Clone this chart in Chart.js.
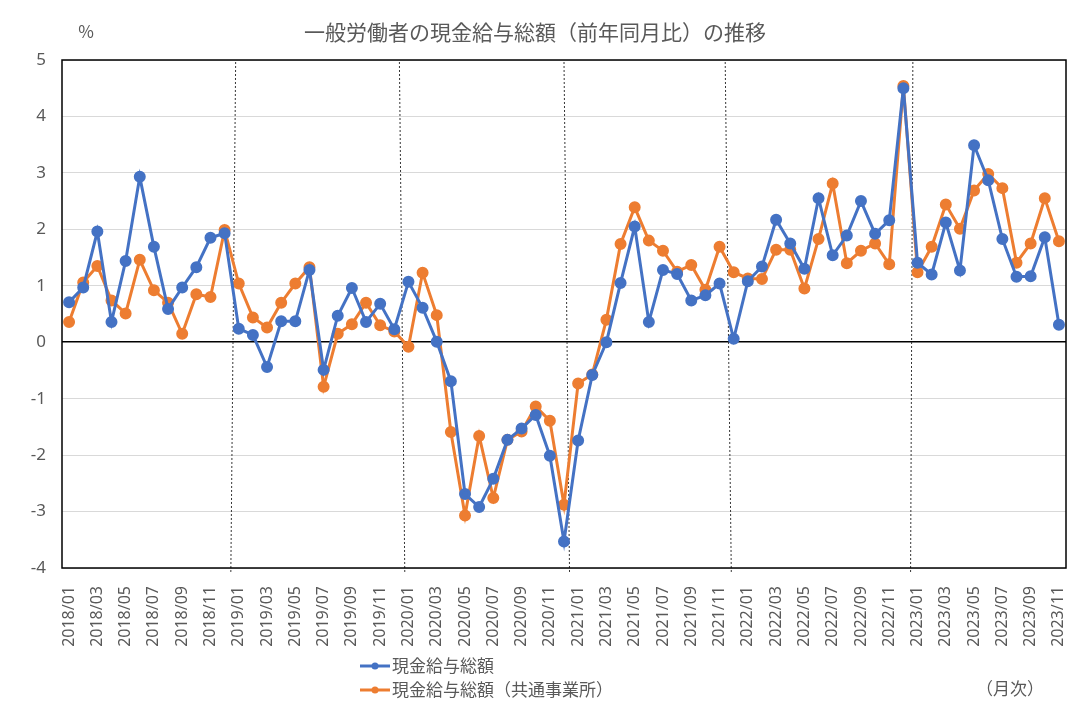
<!DOCTYPE html>
<html>
<head>
<meta charset="utf-8">
<script src="https://cdn.jsdelivr.net/npm/chart.js@4.4.1/dist/chart.umd.min.js"></script>
<style>
  html, body { margin: 0; padding: 0; background: #fff; }
  #wrap { width: 1080px; height: 712px; position: relative; }
</style>
</head>
<body>
<div id="wrap"><canvas id="wageChart" width="1080" height="712"></canvas></div>
<script>
// 月次ラベル
const months = [
    '2018/01','2018/02','2018/03','2018/04','2018/05','2018/06','2018/07','2018/08','2018/09','2018/10','2018/11','2018/12',
    '2019/01','2019/02','2019/03','2019/04','2019/05','2019/06','2019/07','2019/08','2019/09','2019/10','2019/11','2019/12',
    '2020/01','2020/02','2020/03','2020/04','2020/05','2020/06','2020/07','2020/08','2020/09','2020/10','2020/11','2020/12',
    '2021/01','2021/02','2021/03','2021/04','2021/05','2021/06','2021/07','2021/08','2021/09','2021/10','2021/11','2021/12',
    '2022/01','2022/02','2022/03','2022/04','2022/05','2022/06','2022/07','2022/08','2022/09','2022/10','2022/11','2022/12',
    '2023/01','2023/02','2023/03','2023/04','2023/05','2023/06','2023/07','2023/08','2023/09','2023/10','2023/11'
];

// 現金給与総額（前年同月比, %）
const totalWage = [
    0.71, 0.97, 1.96, 0.36, 1.44, 2.93, 1.69, 0.59, 0.97, 1.33, 1.85, 1.93,
    0.24, 0.13, -0.44, 0.37, 0.37, 1.28, -0.49, 0.47, 0.96, 0.36, 0.68, 0.23,
    1.07, 0.61, 0.01, -0.69, -2.69, -2.92, -2.42, -1.73, -1.53, -1.29, -2.01, -3.53,
    -1.74, -0.58, 0.00, 1.05, 2.05, 0.36, 1.28, 1.21, 0.74, 0.83, 1.04, 0.06,
    1.08, 1.34, 2.17, 1.75, 1.30, 2.55, 1.54, 1.89, 2.50, 1.92, 2.16, 4.50,
    1.41, 1.20, 2.12, 1.27, 3.49, 2.87, 1.83, 1.16, 1.17, 1.86, 0.31
];

// 現金給与総額（共通事業所）
const totalWageCommon = [
    0.36, 1.06, 1.35, 0.74, 0.51, 1.46, 0.92, 0.70, 0.15, 0.85, 0.80, 1.99,
    1.04, 0.44, 0.26, 0.70, 1.04, 1.33, -0.79, 0.15, 0.32, 0.70, 0.30, 0.19,
    -0.08, 1.23, 0.48, -1.59, -3.07, -1.66, -2.76, -1.73, -1.58, -1.14, -1.39, -2.88,
    -0.73, -0.57, 0.40, 1.74, 2.39, 1.80, 1.62, 1.25, 1.37, 0.93, 1.69, 1.24,
    1.13, 1.12, 1.64, 1.64, 0.95, 1.83, 2.81, 1.40, 1.62, 1.75, 1.38, 4.54,
    1.24, 1.69, 2.44, 2.01, 2.69, 2.98, 2.73, 1.41, 1.75, 2.55, 1.79
];

const yTicks = [5, 4, 3, 2, 1, 0, -1, -2, -3, -4];

// 年の区切り線（手描き風に少し傾いている）: 上端と下端のカテゴリ位置
const yearDividers = [
    { top: 11.78, bottom: 11.44 },
    { top: 23.36, bottom: 23.74 },
    { top: 35.00, bottom: 35.39 },
    { top: 46.40, bottom: 46.83 },
    { top: 59.67, bottom: 59.51 }
];

const TEXT_GRAY = '#595959';
const JP_FONT = '"Noto Sans CJK JP", "Noto Sans", sans-serif';

// 枠線と年区切り線
const framePlugin = {
    id: 'frame',
    beforeDatasetsDraw(chart) {
        const { ctx, chartArea: a, scales: { x } } = chart;
        ctx.save();
        ctx.strokeStyle = '#333';
        ctx.lineWidth = 1;
        ctx.setLineDash([2, 2]);
        yearDividers.forEach(d => {
            ctx.beginPath();
            ctx.moveTo(x.getPixelForValue(d.top), a.top + 2);
            ctx.lineTo(x.getPixelForValue(d.bottom), a.bottom + 4);
            ctx.stroke();
        });
        ctx.setLineDash([]);
        ctx.strokeStyle = '#000';
        ctx.lineWidth = 1.5;
        ctx.strokeRect(a.left, a.top, a.right - a.left, a.bottom - a.top);
        ctx.restore();
    }
};

// タイトル・単位・凡例
const textPlugin = {
    id: 'texts',
    afterDraw(chart) {
        const { ctx } = chart;
        ctx.save();
        ctx.fillStyle = TEXT_GRAY;
        ctx.textBaseline = 'middle';
        ctx.textAlign = 'center';
        ctx.font = '21px ' + JP_FONT;
        ctx.fillText('一般労働者の現金給与総額（前年同月比）の推移', 535, 32);
        ctx.font = '17px ' + JP_FONT;
        ctx.fillText('%', 86, 32);
        ctx.fillText('（月次）', 1010, 689);

        ctx.textAlign = 'left';
        chart.data.datasets.forEach((ds, i) => {
            const y = 666 + i * 24;
            ctx.strokeStyle = ds.borderColor;
            ctx.lineWidth = 3;
            ctx.beginPath();
            ctx.moveTo(360, y);
            ctx.lineTo(390, y);
            ctx.stroke();
            ctx.fillStyle = ds.borderColor;
            ctx.beginPath();
            ctx.arc(375, y, 3.5, 0, Math.PI * 2);
            ctx.fill();
            ctx.fillStyle = TEXT_GRAY;
            ctx.fillText(ds.label, 392, y);
        });
        ctx.restore();
    }
};

Chart.defaults.font.family = '"Noto Sans", "Noto Sans CJK JP", sans-serif';
Chart.defaults.color = TEXT_GRAY;

const ctx = document.getElementById('wageChart').getContext('2d');
new Chart(ctx, {
    type: 'line',
    data: {
        labels: months,
        datasets: [
            {
                label: '現金給与総額',
                data: totalWage,
                borderColor: '#4472C4',
                backgroundColor: '#4472C4',
                borderWidth: 3,
                pointRadius: 4.5,
                pointHoverRadius: 4.5,
                tension: 0
            },
            {
                label: '現金給与総額（共通事業所）',
                data: totalWageCommon,
                borderColor: '#ED7D31',
                backgroundColor: '#ED7D31',
                borderWidth: 3,
                pointRadius: 4.5,
                pointHoverRadius: 4.5,
                tension: 0
            }
        ]
    },
    options: {
        responsive: false,
        animation: false,
        layout: { padding: { top: 60, left: 0, right: 14, bottom: 0 } },
        plugins: {
            legend: { display: false },
            title: { display: false },
            tooltip: { enabled: false }
        },
        scales: {
            x: {
                offset: true,
                grid: { display: false, offset: true },
                border: { display: false },
                ticks: {
                    autoSkip: false,
                    maxRotation: 90,
                    minRotation: 90,
                    padding: 10,
                    font: { size: 16 },
                    color: TEXT_GRAY,
                    callback: function(value, index) {
                        return index % 2 === 0 ? this.getLabelForValue(value) : '';
                    }
                },
                afterFit(scale) {
                    scale.height = 144;
                    scale.paddingRight = 0;
                    scale.paddingLeft = 0;
                }
            },
            y: {
                min: -4,
                max: 5,
                afterBuildTicks(scale) {
                    scale.ticks = yTicks.map(v => ({ value: v }));
                },
                grid: {
                    drawTicks: false,
                    color: c => (c.tick && c.tick.value === 0) ? '#000' : '#d9d9d9',
                    lineWidth: c => (c.tick && c.tick.value === 0) ? 1.5 : 1
                },
                border: { display: false },
                ticks: {
                    padding: 16,
                    font: { size: 17 },
                    color: TEXT_GRAY
                },
                afterFit(scale) { scale.width = 62; }
            }
        }
    },
    plugins: [framePlugin, textPlugin]
});
</script>
</body>
</html>
